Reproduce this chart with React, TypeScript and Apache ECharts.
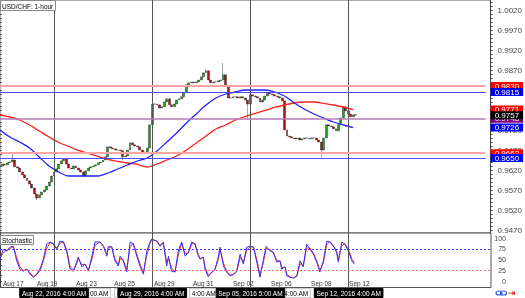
import React, { useEffect, useRef } from "react";
import * as echarts from "echarts";

// ---- price data (3-hour bars, slot index = bar number) ----
const closes = [
  0.9630, 0.9635, 0.9633, 0.9638, 0.9640, 0.9645, 0.9628, 0.9625, 0.9615, 0.9608,
  0.9600, 0.9593, 0.9585, 0.9575, 0.9560, 0.9550, 0.9558, 0.9565, 0.9570, 0.9580,
  0.9590, 0.9605, 0.9615, 0.9623, 0.9635, 0.9643, 0.9648, 0.9635, 0.9625, 0.9623,
  0.9630, 0.9625, 0.9620, 0.9615, 0.9605, 0.9618, 0.9625, 0.9628, 0.9630, 0.9633,
  0.9638, 0.9640, 0.9645, 0.9653, 0.9678, 0.9675, 0.9673, 0.9670, 0.9670, 0.9668,
  0.9653, 0.9655, 0.9670, 0.9688, 0.9683, 0.9680, 0.9678, 0.9670, 0.9665, 0.9663,
  0.9675, 0.9733, 0.9785, 0.9785, 0.9783, 0.9775, 0.9778, 0.9790, 0.9798, 0.9783,
  0.9778, 0.9785, 0.9795, 0.9798, 0.9803, 0.9813, 0.9833, 0.9838, 0.9840, 0.9838,
  0.9840, 0.9845, 0.9853, 0.9863, 0.9868, 0.9845, 0.9838, 0.9840, 0.9840, 0.9843,
  0.9845, 0.9858, 0.9830, 0.9800, 0.9800, 0.9803, 0.9803, 0.9800, 0.9803, 0.9800,
  0.9795, 0.9785, 0.9808, 0.9805, 0.9803, 0.9800, 0.9790, 0.9795, 0.9805, 0.9813,
  0.9810, 0.9808, 0.9805, 0.9803, 0.9800, 0.9793, 0.9720, 0.9705, 0.9703, 0.9700,
  0.9698, 0.9700, 0.9695, 0.9698, 0.9700, 0.9700, 0.9698, 0.9700, 0.9700, 0.9695,
  0.9690, 0.9670, 0.9700, 0.9733, 0.9730, 0.9728, 0.9723, 0.9718, 0.9733, 0.9750,
  0.9778, 0.9768, 0.9760, 0.9753, 0.9758, 0.9757,
];
const highSpikeSlots = [5, 84, 91];
const highSpikeValues = [0.9660, 0.9871, 0.9888];
const lowSpikeSlots = [15, 34, 50, 101, 131];
const lowSpikeValues = [0.9545, 0.9603, 0.9645, 0.9745, 0.9653];

// moving averages, one reading every maStep bars
const maStep = 4;
const blueMA = [
  0.9720, 0.97025, 0.9690, 0.9675, 0.96525, 0.9630, 0.9615, 0.9605, 0.9605, 0.9605,
  0.9605, 0.96125, 0.96225, 0.96325, 0.96425, 0.9650, 0.96675, 0.9690, 0.97125, 0.97375,
  0.9760, 0.97825, 0.9800, 0.9810, 0.9815, 0.9820, 0.9820, 0.9820, 0.9815, 0.9805,
  0.97875, 0.97725, 0.9760, 0.9750, 0.9740, 0.97325, 0.9726,
];
const redMA = [
  0.97575, 0.97525, 0.9745, 0.97325, 0.97175, 0.97025, 0.96888, 0.96788, 0.96688, 0.96613,
  0.96538, 0.96463, 0.96413, 0.96375, 0.96338, 0.96275, 0.9635, 0.9645, 0.9655, 0.9670,
  0.96875, 0.9705, 0.97225, 0.97325, 0.9745, 0.97538, 0.97613, 0.97688, 0.97763, 0.97825,
  0.97875, 0.9790, 0.9790, 0.97863, 0.97825, 0.97775, 0.9771,
];

// horizontal levels
const resistance = [0.9830, 0.9662];
const support = [0.9815, 0.9650];
const pivot = 0.9748;

// stochastic (time in bar units)
const stochTime = [
  0, 1.3, 2.7, 4.1, 5.4, 6.8, 8.1, 9.5, 10.9, 12.2,
  13.6, 14.9, 16.3, 17.6, 19.0, 20.4, 21.7, 23.1, 24.4, 25.8,
  27.2, 28.5, 29.9, 31.2, 31.9, 33.3, 34.6, 36.0, 37.4, 38.7,
  40.7, 42.1, 43.5, 44.1, 45.5, 46.8, 48.2, 48.9, 50.2, 51.6,
  53.0, 54.3, 55.7, 57.0, 58.4, 59.8, 61.1, 61.8, 63.8, 65.2,
  66.5, 67.9, 68.6, 69.9, 71.3, 72.6, 74.0, 75.4, 76.7, 78.1,
  79.4, 80.8, 81.5, 82.8, 83.5, 84.8, 86.2, 87.6, 88.9, 89.6,
  91.0, 92.3, 93.7, 95.0, 96.4, 97.8, 99.1, 100.5, 101.8, 103.2,
  104.6, 105.9, 107.3, 108.4, 110.0, 111.3, 112.7, 114.1, 114.7, 116.1,
  116.8, 118.1, 119.5, 120.9, 122.2, 123.5, 124.9, 126.3, 127.6, 129.0,
  130.3, 131.7, 133.1, 134.4, 135.8, 137.1, 137.8, 139.2, 140.5, 141.9,
  143.3, 144.3,
];
const stochK = [
  51, 74, 70, 79, 81, 47, 28, 23, 28, 16,
  9, 16, 28, 51, 86, 91, 86, 74, 93, 91,
  67, 28, 23, 44, 56, 33, 40, 23, 58, 91,
  91, 81, 58, 81, 79, 47, 35, 58, 47, 21,
  91, 86, 58, 35, 16, 70, 91, 98, 93, 81,
  91, 35, 58, 23, 21, 70, 91, 58, 67, 91,
  86, 58, 51, 56, 28, 10, 21, 28, 56, 79,
  35, 21, 12, 16, 23, 63, 40, 79, 81, 79,
  44, 9, 51, 81, 70, 67, 44, 47, 28, 33,
  12, 9, 7, 12, 47, 33, 86, 74, 63, 44,
  21, 47, 93, 91, 81, 67, 44, 91, 86, 70,
  47, 40,
];
const stochD = [
  55, 66, 72, 76, 80, 55, 33, 25, 27, 19,
  11, 14, 25, 45, 76, 90, 88, 77, 88, 92,
  72, 35, 25, 40, 52, 38, 39, 27, 50, 84,
  91, 83, 62, 76, 80, 52, 38, 52, 49, 27,
  80, 88, 63, 40, 20, 60, 88, 96, 94, 84,
  88, 42, 52, 30, 22, 60, 88, 64, 65, 87,
  88, 62, 53, 55, 33, 14, 19, 27, 50, 74,
  42, 24, 14, 15, 22, 55, 44, 72, 80, 80,
  50, 15, 44, 76, 73, 67, 49, 46, 32, 32,
  16, 10, 8, 11, 40, 36, 77, 77, 65, 48,
  25, 42, 85, 92, 83, 70, 49, 83, 87, 74,
  52, 42,
];
const stochUpper = 75;
const stochLower = 25;

// axis labels
const priceTicks = [1.002, 0.997, 0.992, 0.987, 0.982, 0.977, 0.972, 0.967, 0.962, 0.957, 0.952, 0.947];
const stochTicks = [0, 25, 50, 75, 100];
const dateLabels = ["Aug 17", "Aug 19", "Aug 23", "Aug 25", "Aug 29", "Aug 31", "Sep 02", "Sep 06", "Sep 08", "Sep 12"];
const dateSlots = [1.2, 15, 31, 46.5, 62.7, 78.6, 94.9, 110.4, 126.7, 142.2];
const weekSlots = [22, 62, 102, 142];
const weekLabels = ["Aug 22, 2016 4:00 AM", "Aug 29, 2016 4:00 AM", "Sep 05, 2016 5:00 AM", "Sep 12, 2016 4:00 AM"];
const backLabelSlots = [31, 52.5, 83, 112.4, 132];
const backLabels = ["Aug 23, 2016 4:00 AM", "4:00 AM", "4:00 AM", "Sep 06, 2016 4:00 AM", "4:00 AM"];

const slotTotal = 201;
const lineEndSlot = 198;
const FONT = "Liberation Sans, Arial, sans-serif";

export default function App() {
  const ref = useRef<HTMLDivElement>(null);
  useEffect(() => {
    if (!ref.current) return;
    const chart = echarts.init(ref.current, null, { renderer: "svg" });
    const categories = Array.from({ length: slotTotal }, (_, i) => String(i));
    const candleData = closes.map((c, i) => {
      const o = i === 0 ? c : closes[i - 1];
      let lo = Math.min(o, c);
      let hi = Math.max(o, c);
      const h = highSpikeSlots.indexOf(i);
      if (h >= 0) hi = highSpikeValues[h];
      const l = lowSpikeSlots.indexOf(i);
      if (l >= 0) lo = lowSpikeValues[l];
      return [o, c, lo, hi];
    });
    const yMin = 0.94625;
    const yMax = 1.0045;
    const minorTicks = Array.from({ length: 58 }, (_, k) => Math.round((0.947 + k * 0.001) * 1000) / 1000);
    const last = closes[closes.length - 1];

    const levelItem = (v: number, lineColor: string, width: number, boxColor: string) => [
      {
        xAxis: categories[0],
        yAxis: v,
        lineStyle: { color: lineColor, width, type: "solid" },
        label: {
          show: true,
          position: "end",
          distance: 5,
          formatter: () => v.toFixed(4),
          color: "#fff",
          backgroundColor: boxColor,
          padding: [0, 4],
          fontSize: 8,
          lineHeight: 8,
          fontFamily: FONT,
        },
      },
      { xAxis: categories[lineEndSlot], yAxis: v },
    ];
    const labelOnly = (v: number, boxColor: string) => [
      {
        xAxis: categories[0],
        yAxis: v,
        lineStyle: { color: "rgba(0,0,0,0)", width: 0 },
        label: {
          show: true,
          position: "end",
          distance: 5,
          formatter: () => v.toFixed(4),
          color: "#fff",
          backgroundColor: boxColor,
          padding: [0, 4],
          fontSize: 8,
          lineHeight: 8,
          fontFamily: FONT,
        },
      },
      { xAxis: categories[lineEndSlot], yAxis: v },
    ];

    const stripAxis = (slots: number[], labels: string[], bg: string, fg: string, z: number) => ({
      type: "value",
      gridIndex: 1,
      min: 0,
      max: slotTotal - 1,
      position: "bottom",
      z,
      axisLine: { show: false },
      axisTick: { show: false },
      splitLine: { show: false },
      axisLabel: {
        customValues: slots,
        formatter: (v: number) => labels[slots.indexOf(v)] ?? "",
        backgroundColor: bg,
        color: fg,
        borderColor: bg === "#fff" ? "#999" : bg,
        borderWidth: 0.5,
        fontSize: 6.5,
        lineHeight: 8,
        padding: [1, 2, 0, 2],
        margin: 1,
        fontFamily: FONT,
      },
    });

    chart.setOption({
      animation: false,
      textStyle: { fontFamily: FONT },
      title: [
        {
          text: "USD/CHF: 1-hour",
          left: 0,
          top: 0,
          padding: [2, 2, 1, 2],
          backgroundColor: "#fff",
          borderColor: "#888",
          borderWidth: 1,
          textStyle: { fontSize: 6.5, fontWeight: "normal", color: "#000", lineHeight: 8, fontFamily: FONT },
        },
        {
          text: "Stochastic",
          left: 0,
          top: 235,
          padding: [1, 2, 1, 2],
          backgroundColor: "#fff",
          borderColor: "#888",
          borderWidth: 1,
          textStyle: { fontSize: 6.5, fontWeight: "normal", color: "#000", lineHeight: 8, fontFamily: FONT },
        },
      ],
      grid: [
        { left: 0, right: 34, top: 0, height: 233, show: true, borderColor: "#555", borderWidth: 1, backgroundColor: "#fff" },
        { left: 0, right: 34, top: 233, height: 55, show: true, borderColor: "#555", borderWidth: 1, backgroundColor: "#fff" },
      ],
      xAxis: [
        { type: "category", gridIndex: 0, data: categories, boundaryGap: false, show: false },
        {
          type: "value",
          gridIndex: 1,
          min: 0,
          max: slotTotal - 1,
          axisLine: { show: false },
          axisTick: { show: false },
          splitLine: { show: false },
          axisLabel: {
            inside: true,
            customValues: dateSlots,
            formatter: (v: number) => dateLabels[dateSlots.indexOf(v)] ?? "",
            align: "left",
            fontSize: 6.5,
            margin: 1,
            color: "#333",
            fontFamily: FONT,
          },
        },
        stripAxis(backLabelSlots, backLabels, "#fff", "#000", 1),
        stripAxis(weekSlots, weekLabels, "#000", "#fff", 2),
      ],
      yAxis: [
        {
          type: "value",
          gridIndex: 0,
          position: "right",
          min: yMin,
          max: yMax,
          axisLine: { show: true, lineStyle: { color: "#444" } },
          axisTick: { show: true, customValues: minorTicks, length: 2, lineStyle: { color: "#444" } },
          axisLabel: {
            customValues: priceTicks,
            formatter: (v: number) => v.toFixed(4),
            fontSize: 8,
            color: "#444",
            margin: 7,
            fontFamily: FONT,
          },
          splitLine: { show: false },
        },
        {
          type: "value",
          gridIndex: 0,
          position: "left",
          min: yMin,
          max: yMax,
          axisLine: { show: false },
          axisTick: { show: true, inside: true, customValues: minorTicks, length: 2, lineStyle: { color: "#555" } },
          axisLabel: { show: false },
          splitLine: { show: false },
        },
        {
          type: "value",
          gridIndex: 1,
          position: "right",
          min: -15,
          max: 112,
          axisLine: { show: true, lineStyle: { color: "#444" } },
          axisTick: { show: true, customValues: [0, 12.5, 25, 37.5, 50, 62.5, 75, 87.5, 100], length: 2, lineStyle: { color: "#444" } },
          axisLabel: {
            customValues: stochTicks,
            align: "right",
            margin: 15,
            fontSize: 7,
            color: "#444",
            fontFamily: FONT,
          },
          splitLine: { show: false },
        },
      ],
      series: [
        {
          type: "candlestick",
          xAxisIndex: 0,
          yAxisIndex: 0,
          data: candleData,
          barWidth: 2.4,
          itemStyle: {
            color: "#1fa01f",
            color0: "#b01010",
            borderColor: "#1a1a1a",
            borderColor0: "#1a1a1a",
            borderWidth: 0.4,
          },
          markLine: {
            silent: true,
            symbol: "none",
            animation: false,
            data: [
              ...weekSlots.map((s) => ({
                xAxis: categories[s],
                lineStyle: { color: "#555", width: 1, type: "solid" },
                label: { show: false },
              })),
              levelItem(resistance[0], "#ffa3a3", 2, "#ff0000"),
              levelItem(support[0], "#4a4aff", 1, "#0000ff"),
              levelItem(pivot, "#b57ab8", 1.6, "#800080"),
              levelItem(resistance[1], "#ffa3a3", 2, "#ff0000"),
              levelItem(support[1], "#4a4aff", 1, "#0000ff"),
            ],
          },
        },
        {
          type: "line",
          xAxisIndex: 0,
          yAxisIndex: 0,
          data: redMA.map((v, k) => [k * maStep, v]),
          showSymbol: false,
          smooth: 0.3,
          lineStyle: { color: "#ff1f1f", width: 1.3 },
          z: 3,
          markLine: {
            silent: true,
            symbol: "none",
            data: [labelOnly(redMA[redMA.length - 1], "#ff0000")],
          },
        },
        {
          type: "line",
          xAxisIndex: 0,
          yAxisIndex: 0,
          data: blueMA.map((v, k) => [k * maStep, v]),
          showSymbol: false,
          smooth: 0.3,
          lineStyle: { color: "#2222ff", width: 1.3 },
          z: 3,
          markLine: {
            silent: true,
            symbol: "none",
            data: [labelOnly(blueMA[blueMA.length - 1], "#0000ff")],
          },
        },
        {
          type: "line",
          xAxisIndex: 0,
          yAxisIndex: 0,
          data: [[closes.length - 1, last]],
          showSymbol: false,
          lineStyle: { opacity: 0 },
          z: 5,
          markLine: {
            silent: true,
            symbol: "none",
            data: [labelOnly(last, "#000000")],
          },
        },
        {
          type: "line",
          xAxisIndex: 1,
          yAxisIndex: 2,
          data: stochTime.map((t, i) => [t, stochD[i]]),
          showSymbol: false,
          lineStyle: { color: "#ff3030", width: 1 },
          markLine: {
            silent: true,
            symbol: "none",
            label: { show: false },
            data: [
              ...weekSlots.map((s) => ({ xAxis: s, lineStyle: { color: "#555", width: 1, type: "solid" } })),
              { yAxis: stochUpper, lineStyle: { color: "#3a3aff", width: 1, type: [2, 2] } },
              { yAxis: stochLower, lineStyle: { color: "#ff6a6a", width: 1, type: [2, 2] } },
            ],
          },
        },
        {
          type: "line",
          xAxisIndex: 1,
          yAxisIndex: 2,
          data: stochTime.map((t, i) => [t, stochK[i]]),
          showSymbol: false,
          lineStyle: { color: "#3030ff", width: 1 },
        },
      ],
      graphic: [
        { type: "ellipse", shape: { cx: 499, cy: 293, rx: 3, ry: 2 }, style: { fill: "none", stroke: "#2a5bd7", lineWidth: 1.2 } },
        { type: "ellipse", shape: { cx: 503.5, cy: 293, rx: 3, ry: 2 }, style: { fill: "none", stroke: "#2a5bd7", lineWidth: 1.2 } },
        { type: "text", left: 508, top: 288, style: { text: "⇥", fill: "#e00000", fontSize: 9, fontFamily: "DejaVu Sans" } },
      ],
    });
    return () => chart.dispose();
  }, []);
  return <div ref={ref} style={{ position: "fixed", left: 0, top: 0, width: 525, height: 298 }} />;
}
